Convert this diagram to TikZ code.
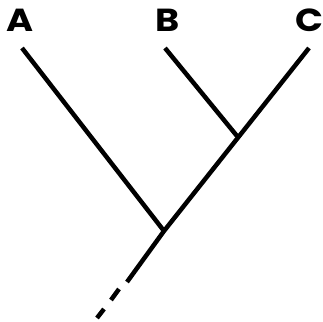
\documentclass[tikz,border=0pt]{standalone}
\usepackage{fontspec}
\setmainfont{Poppins}
\begin{document}
\begin{tikzpicture}[x=1bp,y=-1bp,
  branch/.style={line width=4.5bp,line cap=butt},
  taxon/.style={font=\fontsize{32}{32}\selectfont\bfseries,inner sep=0pt,xscale=1.15}]
\useasboundingbox (0,0) rectangle (323,322);
\node[taxon] (A) at (20,20) {A};
\node[taxon] (B) at (168,20) {B};
\node[taxon] (C) at (309,20) {C};
\coordinate (a) at (22,48);
\coordinate (b) at (165,48);
\coordinate (c) at (309,48);
\coordinate (bc) at (237,136);
\coordinate (abc) at (164,231);
\coordinate (t1) at (127,282);
\coordinate (d1s) at (119,289);
\coordinate (d1e) at (111,300);
\coordinate (d2s) at (104,309);
\coordinate (d2e) at (97,318);
\draw[branch] (a) -- (abc);
\draw[branch] (b) -- (bc);
\draw[branch] (c) -- (abc) -- (t1);
\draw[branch] (d1s) -- (d1e);
\draw[branch] (d2s) -- (d2e);
\end{tikzpicture}
\end{document}
